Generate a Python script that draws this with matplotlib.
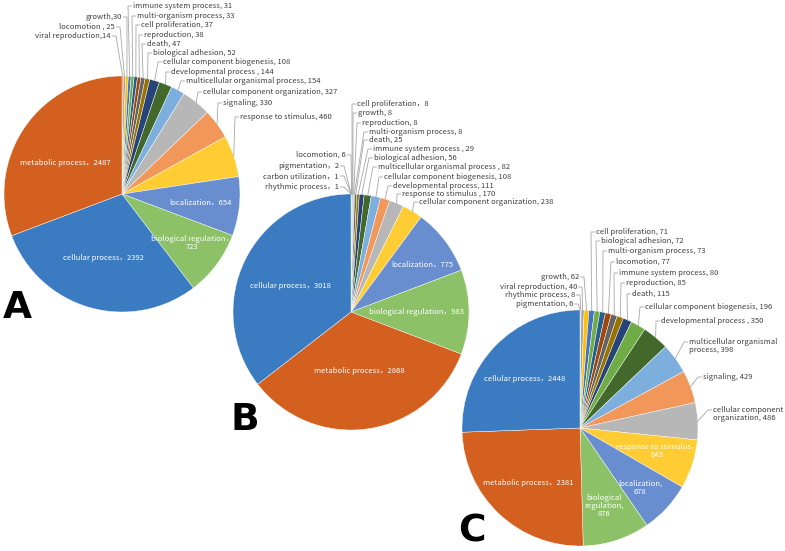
import numpy as np
import matplotlib.pyplot as plt

plt.rcParams['font.family'] = ['Noto Sans CJK SC', 'DejaVu Sans']

# data, ascending order, drawn clockwise from 12 o'clock
a_cats = ['viral reproduction', 'locomotion', 'growth', 'immune system process',
          'multi-organism process', 'cell proliferation', 'reproduction', 'death',
          'biological adhesion', 'cellular component biogenesis', 'developmental process',
          'multicellular organismal process', 'cellular component organization', 'signaling',
          'response to stimulus', 'localization', 'biological regulation',
          'cellular process', 'metabolic process']
a_vals = [14, 25, 30, 31, 33, 37, 38, 47, 52, 108, 144, 154, 327, 330, 460, 654, 723, 2392, 2487]

b_cats = ['rhythmic process', 'carbon utilization', 'pigmentation', 'locomotion',
          'cell proliferation', 'growth', 'reproduction', 'multi-organism process', 'death',
          'immune system process', 'biological adhesion', 'multicellular organismal process',
          'cellular component biogenesis', 'developmental process', 'response to stimulus',
          'cellular component organization', 'localization', 'biological regulation',
          'metabolic process', 'cellular process']
b_vals = [1, 1, 2, 6, 8, 8, 8, 8, 25, 29, 56, 82, 108, 111, 170, 238, 775, 983, 2868, 3018]

c_cats = ['pigmentation', 'rhythmic process', 'viral reproduction', 'growth',
          'cell proliferation', 'biological adhesion', 'multi-organism process', 'locomotion',
          'immune system process', 'reproduction', 'death', 'cellular component biogenesis',
          'developmental process', 'multicellular organismal process', 'signaling',
          'cellular component organization', 'response to stimulus', 'localization',
          'biological regulation', 'metabolic process', 'cellular process']
c_vals = [6, 8, 40, 62, 71, 72, 73, 77, 80, 85, 115, 196, 350, 398, 429, 486, 643, 678, 876, 2381, 2448]

# colours
BLUE, ORANGE = '#3A7BC2', '#D3601F'
a_colors = ['#ED7D31', '#A5A5A5', '#FFC000', '#4472C4', '#70AD47', '#255E91', '#9E480E',
            '#636363', '#997300', '#264478', '#43682B', '#7CAFDD', '#B7B7B7', '#F1975A',
            '#FFCD33', '#698ED0', '#8CC168', BLUE, ORANGE]
b_colors = ['#5B9BD5', '#ED7D31', '#A5A5A5', '#FFC000', '#4472C4', '#70AD47', '#255E91',
            '#9E480E', '#636363', '#997300', '#264478', '#43682B', '#7CAFDD', '#F1975A',
            '#B7B7B7', '#FFCD33', '#698ED0', '#8CC168', ORANGE, BLUE]
c_colors = ['#5B9BD5', '#ED7D31', '#A5A5A5', '#FFC000', '#4472C4', '#70AD47', '#255E91',
            '#9E480E', '#636363', '#997300', '#264478', '#6FAC46', '#43682B', '#7CAFDD',
            '#F1975A', '#B7B7B7', '#FFCD33', '#698ED0', '#8CC168', ORANGE, BLUE]

# label layout (pixel x, y, side, template); side 'in' = white label inside the slice
a_lab = [(111, 36, 'right', '{c},{v}'), (115, 27, 'right', '{c} , {v}'), (122, 17, 'right', '{c},{v}'),
         (133, 6, 'left', '{c}, {v}'), (137, 16, 'left', '{c}, {v}'), (141, 25, 'left', '{c}, {v}'),
         (144, 35, 'left', '{c}, {v}'), (147, 44, 'left', '{c}, {v}'), (153, 53, 'left', '{c}, {v}'),
         (163, 62, 'left', '{c}, {v}'), (171, 72, 'left', '{c} , {v}'), (186, 81, 'left', '{c}, {v}'),
         (203, 92, 'left', '{c}, {v}'), (223, 103, 'left', '{c}, {v}'), (240, 117, 'left', '{c}, {v}'),
         (200, 202, 'in', '{c}，{v}'), (192, 243, 'in', '{c}，\n{v}'),
         (103, 258, 'in', '{c}，{v}'), (65, 163, 'in', '{c}，{v}')]
b_lab = [(339, 187, 'right', '{c}，{v}'), (339, 176, 'right', '{c}，{v}'), (339, 166, 'right', '{c}，{v}'),
         (346, 155, 'right', '{c}, {v}'),
         (357, 104, 'left', '{c}，{v}'), (358, 113, 'left', '{c}, {v}'), (362, 123, 'left', '{c}, {v}'),
         (369, 132, 'left', '{c}, {v}'), (369, 140, 'left', '{c}, {v}'), (373, 149, 'left', '{c} , {v}'),
         (374, 158, 'left', '{c}, {v}'), (378, 167, 'left', '{c} , {v}'), (384, 177, 'left', '{c}, {v}'),
         (393, 186, 'left', '{c}, {v}'), (402, 194, 'left', '{c} , {v}'), (419, 202, 'left', '{c}, {v}'),
         (422, 264, 'in', '{c}，{v}'), (416, 312, 'in', '{c}，{v}'),
         (359, 371, 'in', '{c}，{v}'), (290, 286, 'in', '{c}，{v}')]
c_lab = [(573, 304, 'right', '{c}, {v}'), (575, 295, 'right', '{c}, {v}'), (577, 287, 'right', '{c}, {v}'),
         (579, 277, 'right', '{c}, {v}'),
         (596, 232, 'left', '{c}, {v}'), (601, 241, 'left', '{c}, {v}'), (608, 251, 'left', '{c}, {v}'),
         (616, 262, 'left', '{c}, {v}'), (619, 273, 'left', '{c}, {v}'), (626, 283, 'left', '{c}, {v}'),
         (632, 294, 'left', '{c}, {v}'), (645, 307, 'left', '{c}, {v}'), (661, 321, 'left', '{c} , {v}'),
         (689, 346, 'left', 'multicellular organismal\nprocess, {v}'), (703, 377, 'left', '{c}, {v}'),
         (713, 414, 'left', 'cellular component\norganization, {v}'),
         (657, 451, 'in', '{c}，\n{v}'), (640, 488, 'in', '{c},\n{v}'),
         (604, 506, 'in', 'biological\nregulation,\n{v}'),
         (528, 483, 'in', '{c}，{v}'), (525, 379, 'in', '{c}，{v}')]

FS = 5.5

fig = plt.figure(figsize=(7.85, 5.51), dpi=100)
ax = fig.add_axes([0, 0, 1, 1])


def draw_pie(cats, vals, colors, labels, cx, cy, r):
    wedges, _ = ax.pie(vals, colors=colors, center=(cx, cy), radius=r,
                       startangle=-90, counterclock=True,
                       wedgeprops=dict(edgecolor='white', linewidth=0.3))
    for w, c, v, (x, y, side, fmt) in zip(wedges, cats, vals, labels):
        txt = fmt.format(c=c, v=v)
        if side == 'in':
            ax.text(x, y, txt, ha='center', va='center', color='white',
                    fontsize=FS, linespacing=1.05)
            continue
        mid = np.deg2rad((w.theta1 + w.theta2) / 2)
        ex, ey = cx + r * np.cos(mid), cy + r * np.sin(mid)
        d = -1 if side == 'left' else 1
        ly = y - 4 if '\n' in txt else y
        ax.plot([ex, x + d * 5, x + d * 1.5], [ey, ly, ly], color='#A6A6A6', lw=0.6)
        ax.text(x, y, txt, ha=side, va='center', color='#404040',
                fontsize=FS, linespacing=1.15)


draw_pie(a_cats, a_vals, a_colors, a_lab, 122, 194, 118)
draw_pie(b_cats, b_vals, b_colors, b_lab, 351, 312, 118)
draw_pie(c_cats, c_vals, c_colors, c_lab, 580, 428, 118)

for letter, x, y in [('A', 3, 318), ('B', 230, 430), ('C', 458, 542)]:
    ax.text(x, y, letter, fontsize=27, fontweight='bold', family='DejaVu Sans',
            ha='left', va='baseline', color='black')

ax.set_xlim(0, 785)
ax.set_ylim(551, 0)
ax.axis('off')

fig.savefig('out.png', dpi=100)
